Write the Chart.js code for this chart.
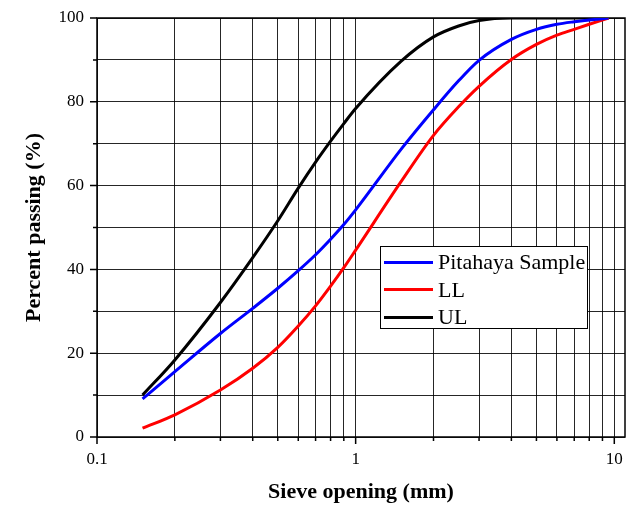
<!DOCTYPE html>
<html>
<head>
<meta charset="utf-8">
<script src="https://cdn.jsdelivr.net/npm/chart.js@4.4.1/dist/chart.umd.min.js"></script>
<style>
  html, body { margin: 0; padding: 0; background: #fff; }
  #wrap { position: relative; width: 635px; height: 506px; }
  #legend {
    position: absolute; left: 380px; top: 246px; width: 206px; height: 81px;
    border: 1.5px solid #000; background: #fff;
    font-family: "Liberation Serif", "Times New Roman", serif; font-size: 22px; color: #000;
  }
  .row { position: absolute; left: 3px; height: 26px; display: flex; align-items: center; white-space: nowrap; }
  .swatch { width: 49px; height: 3px; margin-right: 5px; }
</style>
</head>
<body>
<div id="wrap">
  <canvas id="grading" width="635" height="506"></canvas>
  <div id="legend"></div>
</div>
<script>
// sieve sizes (mm) and percent passing
const sieve = [0.15, 0.2, 0.3, 0.4, 0.5, 0.6, 0.7, 0.8, 0.9, 1, 1.5, 2, 2.5, 3, 4, 5, 6, 7, 8, 9.5];
const pitahaya = [9.1, 15.6, 24.7, 30.7, 35.5, 39.7, 43.5, 47.2, 50.7, 54.2, 68.7, 78.1, 85.0, 89.9, 94.9, 97.3, 98.5, 99.1, 99.5, 100];
const lowerLimit = [2.1, 5.3, 11.2, 16.4, 21.4, 26.5, 31.3, 36, 40.4, 44.6, 61, 72, 78.8, 83.7, 90.1, 93.7, 95.9, 97.3, 98.5, 100];
const upperLimit = [10, 18.4, 32.1, 42.8, 51.6, 59.4, 65.6, 70.6, 74.8, 78.4, 89.7, 95.5, 98.1, 99.4, 100, 100, 100, 100, 100, 100];

const xGridValues = [0.1, 0.2, 0.3, 0.4, 0.5, 0.6, 0.7, 0.8, 0.9, 1, 2, 3, 4, 5, 6, 7, 8, 9, 10];
const xLabelValues = [0.1, 1, 10];

const serif = "'Liberation Serif', 'Times New Roman', serif";

const pts = (ys) => sieve.map((x, i) => ({ x: x, y: ys[i] }));

// tick marks outside the frame + frame box
const frame = {
  id: "frame",
  beforeDatasetsDraw(chart) {
    const { ctx, chartArea: a, scales } = chart;
    ctx.save();
    ctx.strokeStyle = "#000";
    ctx.lineWidth = 1.5;
    ctx.beginPath();
    scales.x.ticks.forEach((t) => {
      const px = scales.x.getPixelForValue(t.value);
      const len = xLabelValues.includes(t.value) ? 7 : 4;
      ctx.moveTo(px, a.bottom);
      ctx.lineTo(px, a.bottom + len);
    });
    scales.y.ticks.forEach((t) => {
      const py = scales.y.getPixelForValue(t.value);
      const len = t.value % 20 === 0 ? 7 : 4;
      ctx.moveTo(a.left, py);
      ctx.lineTo(a.left - len, py);
    });
    ctx.stroke();
    ctx.strokeRect(a.left, a.top, a.right - a.left, a.bottom - a.top);
    ctx.restore();
  },
};

const ctx = document.querySelector("#grading").getContext("2d");
const chart = new Chart(ctx, {
  type: "line",
  data: {
    datasets: [
      { label: "Pitahaya Sample", data: pts(pitahaya), borderColor: "#0000ff" },
      { label: "LL", data: pts(lowerLimit), borderColor: "#ff0000" },
      { label: "UL", data: pts(upperLimit), borderColor: "#000000" },
    ],
  },
  options: {
    responsive: false,
    animation: false,
    layout: { padding: { left: 0, right: 10, top: 18, bottom: 0 } },
    elements: {
      line: { borderWidth: 3, cubicInterpolationMode: "monotone", fill: false },
      point: { radius: 0 },
    },
    plugins: {
      legend: { display: false },
      tooltip: { enabled: false },
    },
    scales: {
      x: {
        type: "logarithmic",
        min: 0.1,
        max: 11,
        afterBuildTicks: (scale) => {
          scale.ticks = xGridValues.map((v) => ({ value: v }));
        },
        afterFit: (scale) => { scale.height = 69; },
        ticks: {
          autoSkip: false,
          maxRotation: 0,
          padding: 12,
          color: "#000",
          font: { family: serif, size: 17 },
          callback: (v) => (xLabelValues.includes(v) ? String(v) : ""),
        },
        grid: { color: "rgba(0,0,0,0.85)", lineWidth: 1, drawTicks: false },
        border: { display: false },
        title: {
          display: true,
          text: "Sieve opening (mm)",
          color: "#000",
          font: { family: serif, size: 22, weight: "bold" },
          padding: { top: 0, bottom: 0 },
        },
      },
      y: {
        min: 0,
        max: 100,
        afterFit: (scale) => {
          scale.width = 97;
          scale.paddingTop = 0;
          scale.paddingBottom = 0;
        },
        ticks: {
          stepSize: 10,
          padding: 13,
          color: "#000",
          font: { family: serif, size: 17 },
          callback: (v) => (v % 20 === 0 ? v : ""),
        },
        grid: { color: "rgba(0,0,0,0.85)", lineWidth: 1, drawTicks: false },
        border: { display: false },
        title: {
          display: true,
          text: "Percent passing (%)",
          color: "#000",
          font: { family: serif, size: 22, weight: "bold" },
          padding: { top: 21, bottom: 0 },
        },
      },
    },
  },
  plugins: [frame],
});

// legend box inside the plot
const legend = document.querySelector("#legend");
chart.data.datasets.forEach((ds, i) => {
  const row = document.createElement("div");
  row.className = "row";
  row.style.top = (2 + i * 27.5) + "px";
  const sw = document.createElement("span");
  sw.className = "swatch";
  sw.style.background = ds.borderColor;
  const label = document.createElement("span");
  label.textContent = ds.label;
  row.appendChild(sw);
  row.appendChild(label);
  legend.appendChild(row);
});
</script>
</body>
</html>
